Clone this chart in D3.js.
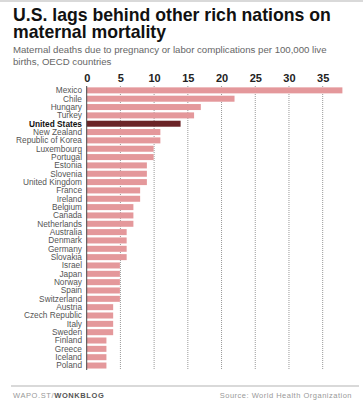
<!DOCTYPE html>
<html>
<head>
<meta charset="utf-8">
<script src="https://cdn.jsdelivr.net/npm/d3@7"></script>
<style>
  body { margin: 0; background: #fff; }
  svg { display: block; font-family: "Liberation Sans", Arial, sans-serif; }
</style>
</head>
<body>
<div id="chart"></div>
<script>
// data
var countries = ["Mexico", "Chile", "Hungary", "Turkey", "United States", "New Zealand",
  "Republic of Korea", "Luxembourg", "Portugal", "Estonia", "Slovenia", "United Kingdom",
  "France", "Ireland", "Belgium", "Canada", "Netherlands", "Australia", "Denmark", "Germany",
  "Slovakia", "Israel", "Japan", "Norway", "Spain", "Switzerland", "Austria", "Czech Republic",
  "Italy", "Sweden", "Finland", "Greece", "Iceland", "Poland"];
var deaths = [38, 22, 17, 16, 14, 11, 11, 10, 10, 9, 9, 9, 8, 8, 7, 7, 7, 6, 6, 6, 6,
  5, 5, 5, 5, 5, 4, 4, 4, 4, 3, 3, 3, 3];
var tickValues = [0, 5, 10, 15, 20, 25, 30, 35];
var highlight = "United States";

var W = 363, H = 407;
var svg = d3.select("#chart").append("svg")
  .attr("width", W)
  .attr("height", H);

// top rule
svg.append("line")
  .attr("x1", 0).attr("x2", W).attr("y1", 1).attr("y2", 1)
  .attr("stroke", "#d9d9d9").attr("stroke-width", 2);

// title, fitted to the width it has in the reference
var titleLines = ["U.S. lags behind other rich nations on", "maternal mortality"];
var title = svg.append("text")
  .attr("x", 13)
  .attr("font-weight", "bold")
  .attr("fill", "#111")
  .attr("font-size", 18);
title.selectAll("tspan").data(titleLines).enter().append("tspan")
  .attr("x", 13)
  .attr("y", function(d, i) { return 21 + i * 17; })
  .text(function(d) { return d; });
var tw = title.select("tspan").node().getComputedTextLength();
title.attr("font-size", 18 * 318 / tw);

var subLines = ["Maternal deaths due to pregnancy or labor complications per 100,000 live",
  "births, OECD countries"];
var sub = svg.append("text")
  .attr("fill", "#666")
  .attr("font-size", 11);
sub.selectAll("tspan").data(subLines).enter().append("tspan")
  .attr("x", 13)
  .attr("y", function(d, i) { return 53 + i * 11.5; })
  .text(function(d) { return d; });
var sw = sub.select("tspan").node().getComputedTextLength();
sub.attr("font-size", 11 * 314 / sw);

// scales
var x = d3.scaleLinear().domain([0, 38]).range([86.7, 342.9]);
var y = d3.scaleBand().domain(countries).range([86.2, 369.7]).paddingInner(0.28).paddingOuter(0.14);

// dotted gridlines
svg.append("g").selectAll("line").data(tickValues.slice(1)).enter().append("line")
  .attr("x1", function(d) { return x(d); })
  .attr("x2", function(d) { return x(d); })
  .attr("y1", 86)
  .attr("y2", 370)
  .attr("stroke", "#999")
  .attr("stroke-width", 1)
  .attr("stroke-dasharray", "1,1");

// top axis labels
var xAxis = svg.append("g")
  .attr("transform", "translate(0,84)")
  .call(d3.axisTop(x).tickValues(tickValues).tickSize(0).tickPadding(2));
xAxis.select(".domain").remove();
xAxis.selectAll("text")
  .attr("font-family", "Liberation Sans, Arial, sans-serif")
  .attr("font-size", 11)
  .attr("font-weight", "bold")
  .attr("fill", "#222");

// bars
svg.append("g").selectAll("rect").data(countries).enter().append("rect")
  .attr("x", x(0))
  .attr("y", function(d) { return y(d); })
  .attr("width", function(d, i) { return x(deaths[i]) - x(0) - 0.5; })
  .attr("height", y.bandwidth())
  .attr("fill", function(d) { return d === highlight ? "#6b2427" : "#e4989b"; });

// country labels
svg.append("g").selectAll("text").data(countries).enter().append("text")
  .attr("x", 82)
  .attr("y", function(d) { return y(d) + y.bandwidth() / 2; })
  .attr("dy", "0.35em")
  .attr("text-anchor", "end")
  .attr("font-size", 8.3)
  .attr("font-weight", function(d) { return d === highlight ? "bold" : "normal"; })
  .attr("fill", function(d) { return d === highlight ? "#111" : "#555"; })
  .text(function(d) { return d; });

// axis line at zero
svg.append("line")
  .attr("x1", x(0)).attr("x2", x(0))
  .attr("y1", 86).attr("y2", 370)
  .attr("stroke", "#444").attr("stroke-width", 1);

// footer
svg.append("line")
  .attr("x1", 11).attr("x2", 359).attr("y1", 386).attr("y2", 386)
  .attr("stroke", "#ccc").attr("stroke-width", 1.5);

var credit = svg.append("text")
  .attr("x", 13).attr("y", 398)
  .attr("font-size", 7.5)
  .attr("letter-spacing", 0.6)
  .attr("fill", "#999");
credit.append("tspan").text("WAPO.ST/");
credit.append("tspan").attr("font-weight", "bold").attr("fill", "#555").text("WONKBLOG");

svg.append("text")
  .attr("x", 352).attr("y", 398)
  .attr("text-anchor", "end")
  .attr("font-size", 7.5)
  .attr("letter-spacing", 0.5)
  .attr("fill", "#999")
  .text("Source: World Health Organization");
</script>
</body>
</html>
